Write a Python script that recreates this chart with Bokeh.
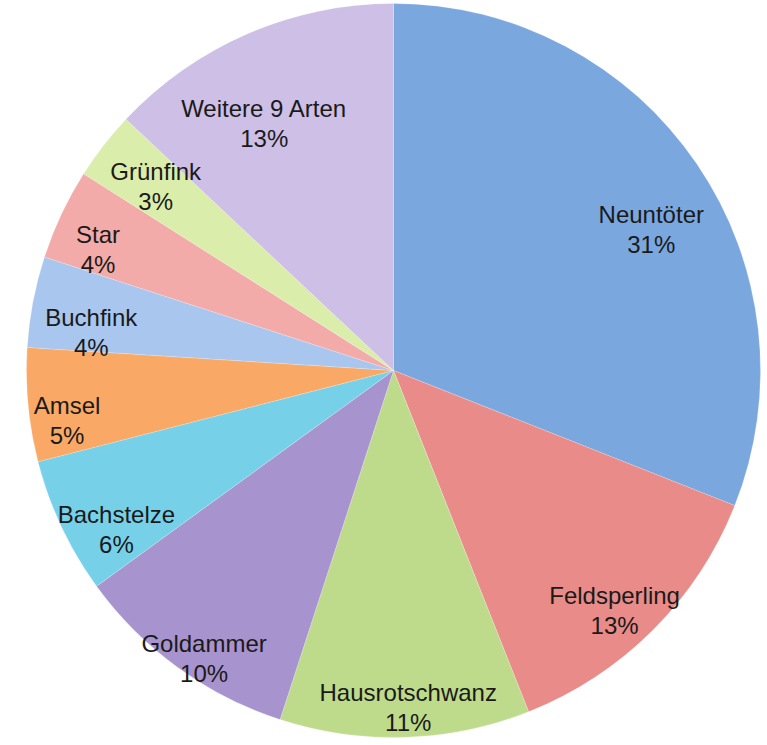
import math
from bokeh.plotting import figure
from bokeh.models import Range1d, ColumnDataSource
from bokeh.core.properties import value
from bokeh.embed import file_html
from bokeh.resources import INLINE

# ---- data ----
species = ["Neuntöter", "Feldsperling", "Hausrotschwanz", "Goldammer", "Bachstelze",
           "Amsel", "Buchfink", "Star", "Grünfink", "Weitere 9 Arten"]
percent = [31, 13, 11, 10, 6, 5, 4, 4, 3, 13]

# ---- style ----
colors = ["#7ba7df", "#e98b88", "#bedb8c", "#a793cd", "#76d0e8",
          "#f9a965", "#a9c6ee", "#f2aba9", "#daedab", "#cdbfe5"]
label_frac = [0.80, 0.89, 0.92, 0.94, 0.87, 0.90, 0.83, 0.87, 0.82, 0.76]
label_nudge_deg = [5.6, 2.4, -0.7, -2.7, -4.6, -3.3, -3.7, -2.9, 0.0, -4.2]

W, H = 765, 743
CX, CY, R = 393, -370, 367  # screen coords (y negated)

total = float(sum(percent))
starts, ends, lx, ly, names, pcts = [], [], [], [], [], []
cum = 0.0
for i, v in enumerate(percent):
    a0 = cum / total
    cum += v
    a1 = cum / total
    starts.append(math.pi / 2 - 2 * math.pi * a0)
    ends.append(math.pi / 2 - 2 * math.pi * a1)
    mid = math.radians((a0 + a1) / 2 * 360 + label_nudge_deg[i])
    lx.append(CX + label_frac[i] * R * math.sin(mid))
    ly.append(CY + label_frac[i] * R * math.cos(mid))
    names.append(species[i])
    pcts.append(f"{v}%")

src = ColumnDataSource(dict(start=starts, end=ends, color=colors,
                            lx=lx, ly=ly, name=names, pct=pcts))

p = figure(width=W, height=H, output_backend="svg", toolbar_location=None,
           x_range=Range1d(0, W), y_range=Range1d(-H, 0),
           min_border=0)
p.axis.visible = False
p.grid.visible = False
p.outline_line_color = None
p.background_fill_color = "white"
p.border_fill_color = "white"

p.wedge(x=CX, y=CY, radius=R, start_angle="start", end_angle="end",
        direction="clock", fill_color="color", line_color="white",
        line_width=0.5, line_alpha=0.4, source=src)

p.text(x="lx", y="ly", text="name", source=src, text_align="center",
       text_baseline="middle", y_offset=-15, text_font=value("Liberation Sans"),
       text_font_size="24px", text_color="#1a1a1a")
p.text(x="lx", y="ly", text="pct", source=src, text_align="center",
       text_baseline="middle", y_offset=15, text_font=value("Liberation Sans"),
       text_font_size="24px", text_color="#1a1a1a")

open("out.html", "w").write(file_html(p, INLINE))
